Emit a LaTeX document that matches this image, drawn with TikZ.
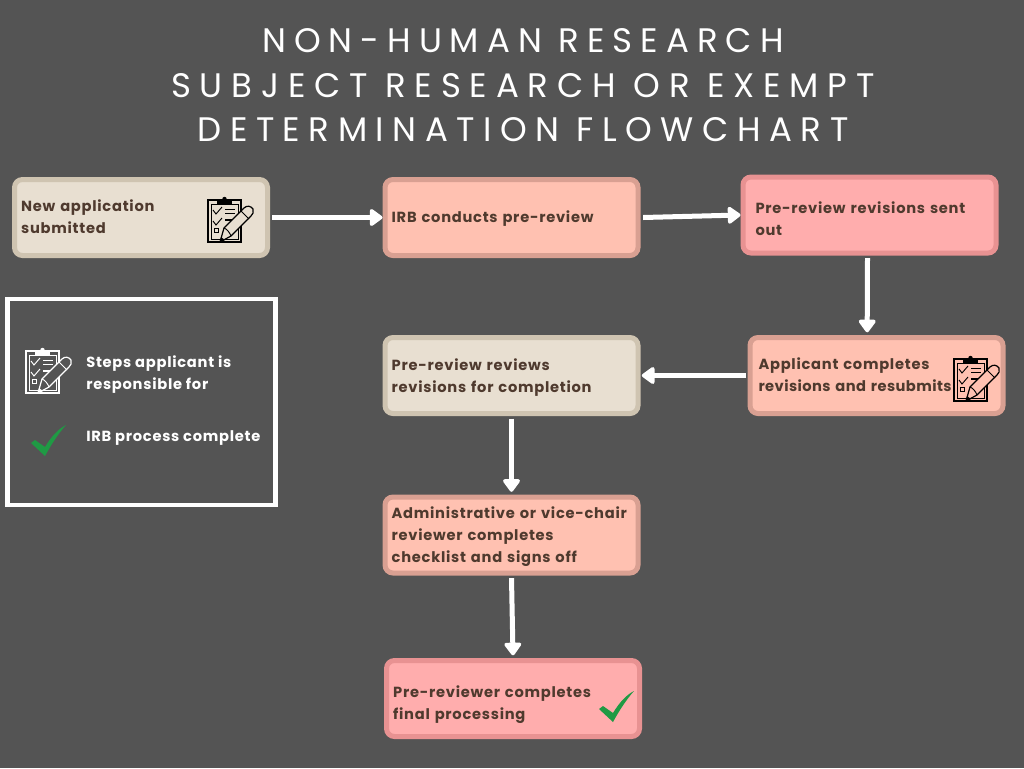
\documentclass[tikz,border=0pt]{standalone}
\usepackage{fontspec}
\usepackage{xcolor}
\usetikzlibrary{positioning,calc,arrows.meta}
\newfontfamily\titlefont[LetterSpace=25]{Poppins}
\newfontfamily\boxfont[LetterSpace=5]{Poppins}

\definecolor{slatebg}{HTML}{545454}
\definecolor{creamfill}{HTML}{E8DFD1}
\definecolor{creamedge}{HTML}{CFC4B1}
\definecolor{peachfill}{HTML}{FFC1B1}
\definecolor{peachedge}{HTML}{D9A092}
\definecolor{pinkfill}{HTML}{FFADAD}
\definecolor{pinkedge}{HTML}{E89292}
\definecolor{boxtext}{HTML}{4F3A2E}
\definecolor{tickgreen}{HTML}{1F9A44}

% nudge the text of a box down or up by half the extra height or depth
\newcommand{\pushdown}[1]{\rule{0pt}{#1}}
\newcommand{\pushup}[1]{\rule[-#1]{0pt}{1pt}}

\tikzset{
    flowbox/.style={rectangle, rounded corners=6pt, line width=3.75pt, minimum height=57pt,
        align=left, text=boxtext, font=\boxfont\bfseries\fontsize{11}{16.5}\selectfont,
        inner xsep=#1, text width={189.75pt-2*#1}},
    flowbox/.default=5pt,
    creambox/.style={flowbox=#1, draw=creamedge, fill=creamfill},
    creambox/.default=5pt,
    peachbox/.style={flowbox=#1, draw=peachedge, fill=peachfill},
    peachbox/.default=5pt,
    pinkbox/.style={flowbox=#1, draw=pinkedge, fill=pinkfill},
    pinkbox/.default=5pt,
    flowarrow/.style={draw=white, line width=3.75pt, -{Triangle[width=14.5pt,length=10.5pt,round]}},
    legendtext/.style={anchor=west, align=left, text=white, font=\boxfont\bfseries\fontsize{11}{16.5}\selectfont, inner sep=0pt},
    pics/clipicon/.style 2 args={code={
        % Board and sheet
        \draw[#1, line width=0.9pt] (0,3) rectangle (33,45);
        \draw[#1, line width=0.6pt] (3,7) rectangle (30,42);
        \fill[#1] (9,3) rectangle (24,7);
        \fill[#1] (16.5,2) circle (2.2);
        % Ticks and lines
        \draw[#1, line width=0.7pt] (5,13) -- (8,17) -- (14,10);
        \draw[#1, line width=0.7pt] (5,24) -- (8,28) -- (14,21);
        \draw[#1, line width=0.7pt] (6,31) rectangle (10,35);
        \draw[#1, line width=0.7pt] (17,12) -- (27,12) (17,16) -- (27,16);
        \draw[#1, line width=1.2pt] (17,23) -- (27,23);
        % Pencil
        \draw[#1, fill=#2, line width=0.9pt, line join=round] (12,45) -- (16,31) -- (36,11)
            .. controls (39,8) and (43,9) .. (45,12) .. controls (46,15) and (45,17) .. (43,19)
            -- (23,39) -- cycle;
        \draw[#1, line width=0.7pt] (33,14) -- (41,22);
        \draw[#1, line width=0.7pt] (16,31) .. controls (19,32) and (22,36) .. (23,39);
        \fill[#1] (12,45) -- (13,40) -- (17,43) -- cycle;
    }},
    pics/tickicon/.style={code={
        \fill[tickgreen] (0,18) -- (4,15) -- (14,22) .. controls (20,12) and (27,4) .. (35,0)
            .. controls (27,9) and (20,20) .. (14,31) -- cycle;
    }}
}

\begin{document}
\begin{tikzpicture}[x=0.75pt,y=-0.75pt]
    % Page
    \fill[slatebg] (0,0) rectangle (1024,768);
    \useasboundingbox (0,0) rectangle (1024,768);

    % Title
    \node[align=center, text=white, font=\titlefont\fontsize{25.5}{33.4}\selectfont] (title) at (523,85.5)
        {\addfontfeature{LetterSpace=23.4}NON-HUMAN RESEARCH\\\addfontfeature{LetterSpace=25.8}SUBJECT RESEARCH OR EXEMPT\\DETERMINATION FLOWCHART};

    % Boxes
    \node[creambox] (newapp) at (141,217.5) {New application\\submitted\pushup{2pt}};
    \node[peachbox] (prereview) at (511.5,217.5) {\pushdown{10pt}IRB conducts pre-review};
    \node[pinkbox=9.4pt] (revsent) at (869.5,215) {\pushdown{14.5pt}Pre-review revisions sent\\out};
    \node[peachbox=6.4pt] (resubmit) at (876.5,375.5) {Applicant completes\\\addfontfeature{LetterSpace=2.8}revisions and resubmits\pushup{2pt}};
    \node[creambox] (revcheck) at (511.5,375.5) {\pushdown{11.5pt}Pre-review reviews\\revisions for completion};
    \node[peachbox] (signoff) at (511.5,535) {\pushdown{11.5pt}Administrative or vice-chair\\reviewer completes\\checklist and signs off};
    \node[pinkbox] (finalproc) at (513,698.5) {\pushdown{17.5pt}Pre-reviewer completes\\final processing};

    % Icons
    \pic at (208,197) {clipicon={black}{creamfill}};
    \pic at (954,356) {clipicon={black}{peachfill}};
    \pic at (599,691) {tickicon};

    % Arrows
    \draw[flowarrow] ([xshift=1.5pt]newapp.east) -- (prereview.west);
    \draw[flowarrow] ([xshift=2pt]prereview.east) -- (revsent.west);
    \draw[flowarrow] ([xshift=-1.5pt,yshift=-2pt]revsent.south) -- ([xshift=-7pt,yshift=2pt]resubmit.north);
    \draw[flowarrow] ([xshift=-1pt]resubmit.west) -- ([xshift=1pt]revcheck.east);
    \draw[flowarrow] ([yshift=-2pt]revcheck.south) -- ([yshift=2pt]signoff.north);
    \draw[flowarrow] ([yshift=-2pt]signoff.south) -- ([yshift=2pt]finalproc.north);

    % Legend
    \node[draw=white, line width=3.4pt, minimum width=201pt, minimum height=154.5pt, inner sep=0pt] (legend) at (141.5,402) {};
    \pic at (26,348) {clipicon={white}{slatebg}};
    \pic at (31,425) {tickicon};
    \node[legendtext] (legendsteps) at (86,375) {Steps applicant is\\responsible for};
    \node[legendtext] (legenddone) at (86,438) {IRB process complete};
\end{tikzpicture}
\end{document}
